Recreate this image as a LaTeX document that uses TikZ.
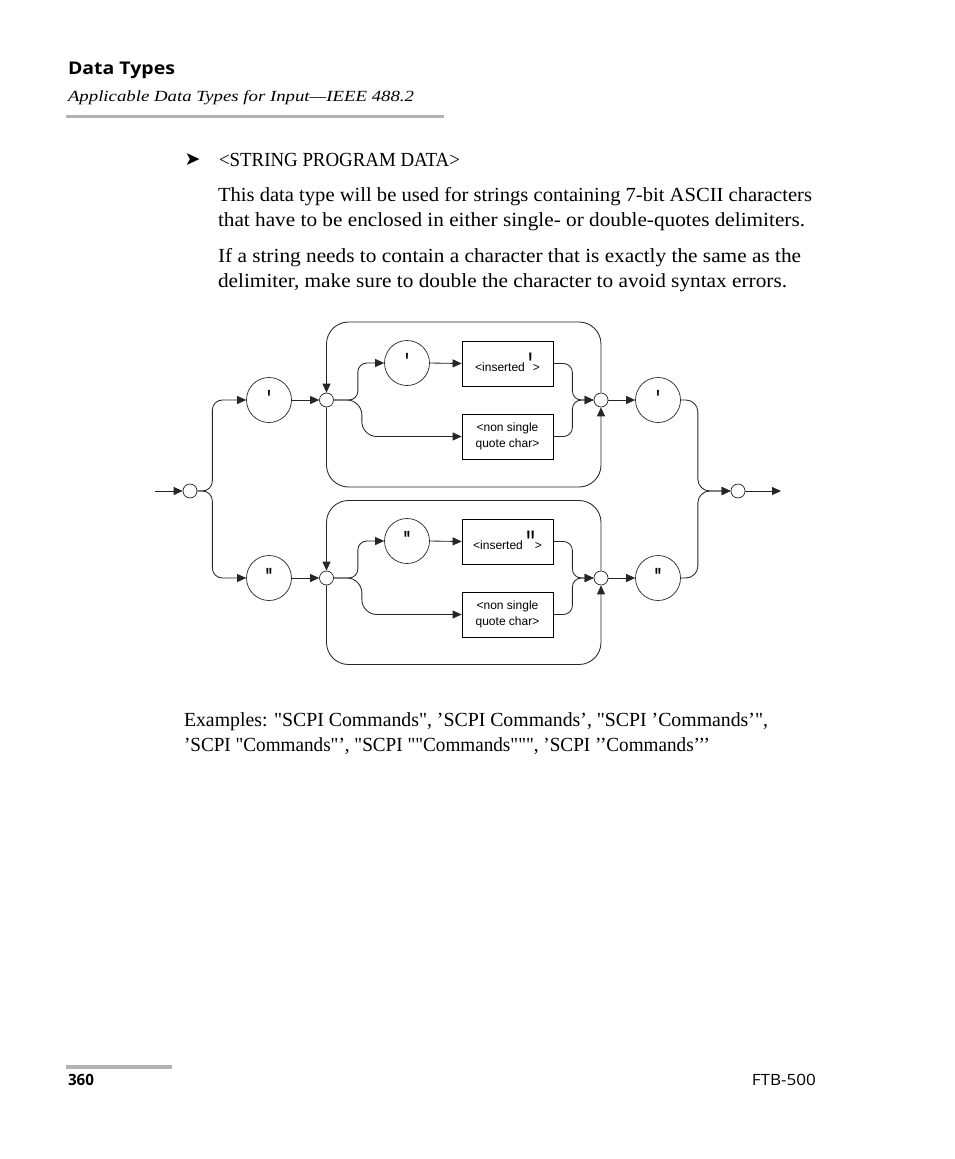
\documentclass[tikz,border=0pt]{standalone}
\usepackage{fontspec}
\usepackage{graphicx}
\usetikzlibrary{arrows.meta}
\setmainfont{Liberation Serif}
\newfontfamily\headfont{Open Sans}
\newfontfamily\subfont{Liberation Serif}
\newfontfamily\dingfont{DejaVu Sans}
\font\bodyfnt="Liberation Serif" at 20pt
\font\dfnt="Liberation Sans" at 12pt
\font\dqfnt="Liberation Sans/B" at 13pt
\font\dbigfnt="Liberation Sans" at 20pt
\newcommand\fitw[2]{\resizebox{#1}{\height}{#2}}
\newcommand\bigq[1]{\raisebox{-7.6pt}{\scalebox{1.2}[1.85]{\dbigfnt #1}}}
\newcommand\cq[1]{\raisebox{-6pt}{\scalebox{1.1}[1.8]{\dqfnt #1}}}
\tikzset{
  ln/.style={line width=0.85pt, draw=black!85},
  arr/.style={ln, -{Triangle[length=9pt,width=8pt]}},
  junc/.style={circle, draw=black!85, line width=0.7pt, minimum size=14pt, inner sep=0pt, fill=white},
  qcirc/.style={circle, draw=black!85, line width=0.7pt, minimum size=45pt, inner sep=0pt, text height=0pt, text depth=0pt},
  termbox/.style={draw=black, line width=0.8pt, minimum width=91pt, minimum height=45pt, inner sep=0pt, font=\dfnt},
  insbox/.style={termbox, text height=15pt, text depth=0pt},
  twobox/.style={termbox, align=center},
  txt/.style={anchor=base west, inner sep=0pt, outer sep=0pt},
  rule/.style={line width=3.2pt, draw=black!30},
}
\begin{document}
\begin{tikzpicture}[x=1pt,y=-1pt]
\fill[white] (0,0) rectangle (954,1159);
\useasboundingbox (0,0) rectangle (954,1159);

% header
\node[txt, font={\headfont\bfseries\fontsize{17.5}{20}\selectfont}] (title) at (68,74.5) {\fitw{107pt}{Data Types}};
\node[txt, font={\subfont\itshape\fontsize{15.5}{18}\selectfont}] (subtitle) at (68,101.7) {\fitw{346pt}{Applicable Data Types for Input—IEEE 488.2}};
\coordinate (rl) at (66,116.7);
\coordinate (rr) at (444,116.7);
\draw[rule] (rl) -- (rr);

% body
\node[font={\dingfont\fontsize{19}{19}\selectfont}, inner sep=0pt] (bullet) at (192.5,160) {➤};
\node[txt, font=\bodyfnt] (sp) at (219,166.5) {\fitw{241pt}{<STRING PROGRAM DATA>}};
\node[txt, font=\bodyfnt] (p1) at (218,201) {\fitw{594pt}{This data type will be used for strings containing 7-bit ASCII characters}};
\node[txt, font=\bodyfnt] (p2) at (218,226) {\fitw{587pt}{that have to be enclosed in either single- or double-quotes delimiters.}};
\node[txt, font=\bodyfnt] (p3) at (218,262) {\fitw{583pt}{If a string needs to contain a character that is exactly the same as the}};
\node[txt, font=\bodyfnt] (p4) at (218,287) {\fitw{569pt}{delimiter, make sure to double the character to avoid syntax errors.}};
\node[txt, font=\bodyfnt] (ex1) at (184,726) {\fitw{584pt}{Examples: "SCPI Commands", ’SCPI Commands’, "SCPI ’Commands’",}};
\node[txt, font=\bodyfnt] (ex2) at (184,751) {\fitw{526pt}{’SCPI "Commands"’, "SCPI ""Commands""", ’SCPI ’’Commands’’’}};

% footer
\coordinate (fl) at (66,1066.7);
\coordinate (fr) at (172,1066.7);
\draw[rule, line width=3.6pt] (fl) -- (fr);
\node[txt, font={\headfont\bfseries\fontsize{15.5}{18}\selectfont}] (pageno) at (68,1085.5) {\fitw{26pt}{360}};
\node[anchor=base east, inner sep=0pt, font={\headfont\fontsize{15.5}{18}\selectfont}] (prod) at (816,1085.5) {\fitw{64pt}{FTB-500}};

% ---------------- syntax diagram ----------------
\coordinate (in) at (155,491);
\coordinate (out) at (781,491);
\node[junc] (e1) at (190,491) {};
\node[junc] (e2) at (738,491) {};

% single quote branch
\node[qcirc] (q1) at (269,400) {\cq{'}};
\node[junc] (j1) at (326.5,400) {};
\node[qcirc] (c1) at (407,363) {\cq{'}};
\node[insbox] (b1) at (507.5,363.5) {<inserted \bigq{'}>};
\node[twobox] (b2) at (507.5,436.5) {<non single\\[4pt]quote char>};
\node[junc] (j2) at (601,400) {};
\node[qcirc] (c3) at (658,400) {\cq{'}};
\coordinate (lt1) at (326.5,322);
\coordinate (rb1) at (601,487);

% double quote branch
\node[qcirc] (q2) at (269,578) {\cq{"}};
\node[junc] (j3) at (326.5,578) {};
\node[qcirc] (c2) at (407,541) {\cq{"}};
\node[insbox] (b3) at (507.5,541.5) {<inserted \bigq{"}>};
\node[twobox] (b4) at (507.5,614.5) {<non single\\[4pt]quote char>};
\node[junc] (j4) at (601,578) {};
\node[qcirc] (c4) at (658,578) {\cq{"}};
\coordinate (lt2) at (326.5,500.5);
\coordinate (rb2) at (601,664.5);

% connectors
\draw[arr] (in) -- (e1.west);
\draw[arr] (e2.east) -- (out);
\draw[arr, rounded corners=10] (e1.east) -- ++(15,0) |- (q1.west);
\draw[arr, rounded corners=10] (e1.east) -- ++(15,0) |- (q2.west);

\draw[arr] (q1.east) -- (j1.west);
\draw[arr, rounded corners=9] (j1.east) -- ++(24,0) |- (c1.west);
\draw[arr, rounded corners=15] (j1.east) -- ++(28,0) |- (b2.west);
\draw[arr] (c1.east) -- (b1.west);
\draw[arr, rounded corners=9] (b1.east) -- ++(19,0) |- (j2.west);
\draw[arr, rounded corners=9] (b2.east) -- ++(19,0) |- (j2.west);
\draw[arr] (j2.east) -- (c3.west);
\draw[arr, rounded corners=22] (j2.north) |- (lt1) -- (j1.north);
\draw[arr, rounded corners=22] (j1.south) |- (rb1) -- (j2.south);
\draw[arr, rounded corners=12] (c3.east) -- ++(17,0) |- (e2.west);

\draw[arr] (q2.east) -- (j3.west);
\draw[arr, rounded corners=9] (j3.east) -- ++(24,0) |- (c2.west);
\draw[arr, rounded corners=15] (j3.east) -- ++(28,0) |- (b4.west);
\draw[arr] (c2.east) -- (b3.west);
\draw[arr, rounded corners=9] (b3.east) -- ++(19,0) |- (j4.west);
\draw[arr, rounded corners=9] (b4.east) -- ++(19,0) |- (j4.west);
\draw[arr] (j4.east) -- (c4.west);
\draw[arr, rounded corners=22] (j4.north) |- (lt2) -- (j3.north);
\draw[arr, rounded corners=22] (j3.south) |- (rb2) -- (j4.south);
\draw[arr, rounded corners=12] (c4.east) -- ++(17,0) |- (e2.west);
\end{tikzpicture}
\end{document}
